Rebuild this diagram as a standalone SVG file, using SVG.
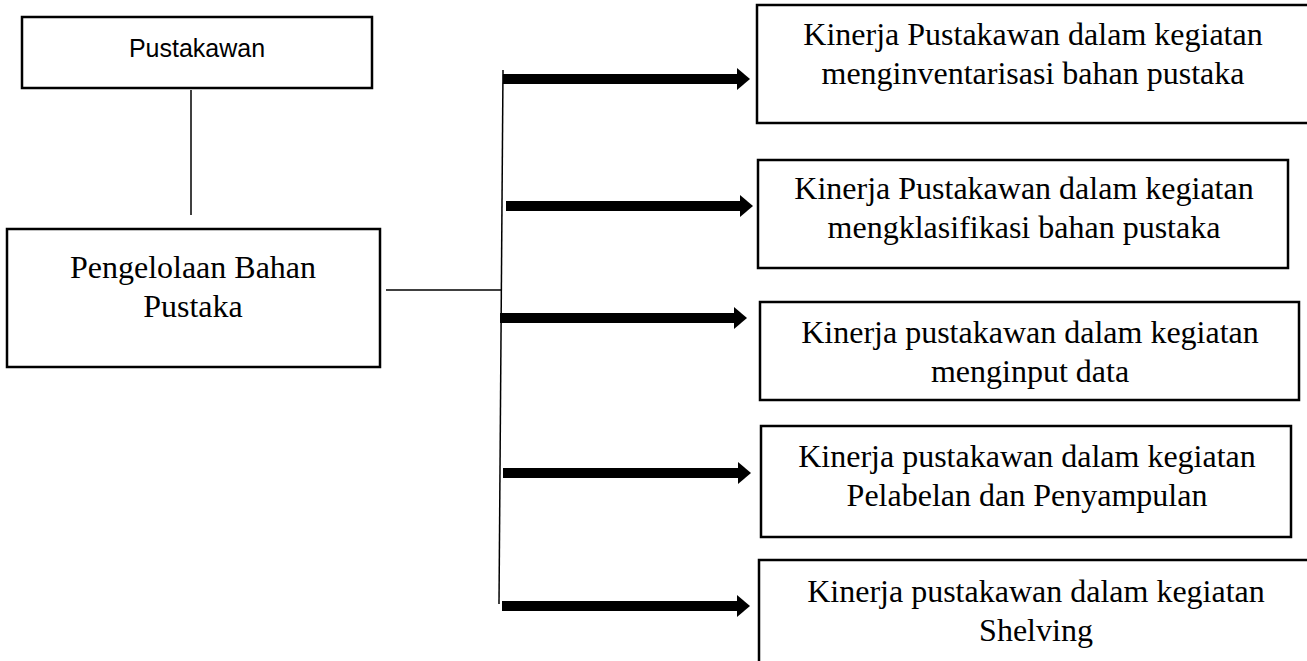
<svg xmlns="http://www.w3.org/2000/svg" width="1307" height="661" viewBox="0 0 1307 661">
<style>
.box{fill:#fff;stroke:#000;stroke-width:2.5}
.serif{font-family:"Liberation Serif","Times New Roman",serif;font-size:32px;fill:#000;text-anchor:middle}
.sans{font-family:"Liberation Sans",Arial,sans-serif;font-size:25px;fill:#000;text-anchor:middle}
.thin{stroke:#000;stroke-width:1.5;fill:none}
.thick{stroke:#000;stroke-width:10;fill:none}
</style>
<defs>
<marker id="ah" markerUnits="userSpaceOnUse" markerWidth="14" markerHeight="24" refX="0" refY="12" orient="auto">
<path d="M0,1 L13,12 L0,23 Z" fill="#000"/>
</marker>
</defs>
<rect width="1307" height="661" fill="#fff"/>
<g id="connectors">
<line class="thin" x1="191" y1="90" x2="191" y2="215"/>
<line class="thin" x1="386" y1="290" x2="501" y2="290"/>
<line class="thin" x1="503" y1="70" x2="499" y2="604"/>
<line class="thick" x1="503" y1="79" x2="737" y2="79" marker-end="url(#ah)"/>
<line class="thick" x1="506" y1="206" x2="740" y2="206" marker-end="url(#ah)"/>
<line class="thick" x1="500" y1="318" x2="734" y2="318" marker-end="url(#ah)"/>
<line class="thick" x1="503" y1="473" x2="738" y2="473" marker-end="url(#ah)"/>
<line class="thick" x1="502" y1="606" x2="737" y2="606" marker-end="url(#ah)"/>
</g>
<g id="pustakawan">
<rect class="box" x="22" y="17" width="350" height="71"/>
<text class="sans" x="197" y="57">Pustakawan</text>
</g>
<g id="pengelolaan">
<rect class="box" x="7" y="229" width="373" height="138"/>
<text class="serif" x="193" y="278">Pengelolaan Bahan</text>
<text class="serif" x="193" y="317">Pustaka</text>
</g>
<g id="k1">
<rect class="box" x="757" y="5" width="560" height="118"/>
<text class="serif" x="1033" y="45">Kinerja Pustakawan dalam kegiatan</text>
<text class="serif" x="1033" y="84">menginventarisasi bahan pustaka</text>
</g>
<g id="k2">
<rect class="box" x="758" y="160" width="530" height="108"/>
<text class="serif" x="1024" y="199">Kinerja Pustakawan dalam kegiatan</text>
<text class="serif" x="1024" y="238">mengklasifikasi bahan pustaka</text>
</g>
<g id="k3">
<rect class="box" x="760" y="302" width="539" height="98"/>
<text class="serif" x="1030" y="343">Kinerja pustakawan dalam kegiatan</text>
<text class="serif" x="1030" y="382">menginput data</text>
</g>
<g id="k4">
<rect class="box" x="761" y="426" width="530" height="111"/>
<text class="serif" x="1027" y="467">Kinerja pustakawan dalam kegiatan</text>
<text class="serif" x="1027" y="506">Pelabelan dan Penyampulan</text>
</g>
<g id="k5">
<rect class="box" x="759" y="560" width="560" height="120"/>
<text class="serif" x="1036" y="602">Kinerja pustakawan dalam kegiatan</text>
<text class="serif" x="1036" y="641">Shelving</text>
</g>
</svg>
